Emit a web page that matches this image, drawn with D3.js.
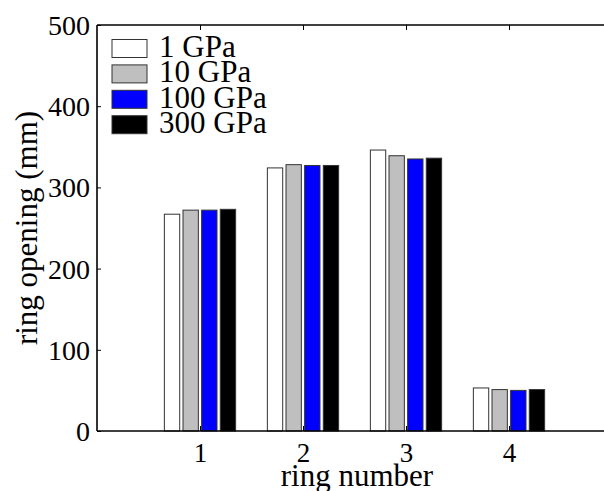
<!DOCTYPE html>
<html>
<head>
<meta charset="utf-8">
<script src="https://cdn.jsdelivr.net/npm/d3@7/dist/d3.min.js"></script>
<style>
  html, body { margin: 0; padding: 0; background: #fff; }
  svg { display: block; }
  text { font-family: "Liberation Serif", "Times New Roman", serif; fill: #000; }
</style>
</head>
<body>
<svg id="chart" width="604" height="491"></svg>
<script>
// Ring opening for each ring, one series per stiffness value
const rings = [1, 2, 3, 4];
const seriesNames = ["1 GPa", "10 GPa", "100 GPa", "300 GPa"];
const seriesColors = ["#ffffff", "#bfbfbf", "#0000ff", "#000000"];
const gpa1 = [267, 324, 346, 53];
const gpa10 = [272, 328, 339, 51];
const gpa100 = [272, 327, 335, 50];
const gpa300 = [273, 327, 336, 51];
const series = [gpa1, gpa10, gpa100, gpa300];
const yTicks = [0, 100, 200, 300, 400, 500];

const svg = d3.select("#chart");
const mLeft = 97, mRight = 612, mTop = 25, mBottom = 431;

const x = d3.scaleLinear().domain([0, 5]).range([mLeft, mRight]);
const y = d3.scaleLinear().domain([0, 500]).range([mBottom, mTop]);

const pitch = 0.181;   // bar spacing inside a group, in x units
const barW = 0.149;    // bar width, in x units

// bars
const g = svg.append("g");
series.forEach((vals, si) => {
  vals.forEach((v, ri) => {
    const cx = rings[ri] + (si - 1.5) * pitch;
    g.append("rect")
      .attr("x", x(cx - barW / 2))
      .attr("width", x(barW) - x(0))
      .attr("y", y(v))
      .attr("height", y(0) - y(v))
      .attr("fill", seriesColors[si])
      .attr("stroke", "#333")
      .attr("stroke-width", 1);
  });
});

// axes box lines (left, bottom, top)
const axisG = svg.append("g").attr("stroke", "#000").attr("stroke-width", 1.6).attr("fill", "none");
axisG.append("line").attr("x1", mLeft).attr("x2", mLeft).attr("y1", mTop).attr("y2", mBottom);
axisG.append("line").attr("x1", mLeft).attr("x2", mRight).attr("y1", mBottom).attr("y2", mBottom);
axisG.append("line").attr("x1", mLeft).attr("x2", mRight).attr("y1", mTop).attr("y2", mTop);

// y axis with inward ticks
const yAxis = d3.axisLeft(y).tickValues(yTicks).tickSize(-4).tickPadding(7);
const ya = svg.append("g").attr("transform", `translate(${mLeft},0)`).call(yAxis);
ya.select(".domain").remove();
ya.selectAll(".tick line").attr("stroke", "#000").attr("stroke-width", 1);
ya.selectAll(".tick text")
  .style("font-family", '"Liberation Serif", serif')
  .style("font-size", "28px")
  .attr("dy", "0.34em");

// x axis with inward ticks
const xAxis = d3.axisBottom(x).tickValues(rings).tickFormat(d3.format("d")).tickSize(-5).tickPadding(12);
const xa = svg.append("g").attr("transform", `translate(0,${mBottom})`).call(xAxis);
xa.select(".domain").remove();
xa.selectAll(".tick line").attr("stroke", "#000").attr("stroke-width", 1);
xa.selectAll(".tick text")
  .style("font-family", '"Liberation Serif", serif')
  .style("font-size", "27px");

// top axis ticks
const xTop = d3.axisTop(x).tickValues(rings).tickSize(-5).tickFormat("");
const xt = svg.append("g").attr("transform", `translate(0,${mTop})`).call(xTop);
xt.select(".domain").remove();
xt.selectAll(".tick line").attr("stroke", "#000").attr("stroke-width", 1);

// axis titles
svg.append("text")
  .attr("x", 357)
  .attr("y", 486)
  .attr("text-anchor", "middle")
  .style("font-size", "31px")
  .text("ring number");

svg.append("text")
  .attr("transform", `translate(37,${(mTop + mBottom) / 2}) rotate(-90)`)
  .attr("text-anchor", "middle")
  .style("font-size", "31px")
  .text("ring opening (mm)");

// legend
const lg = svg.append("g");
seriesNames.forEach((name, i) => {
  const cy = 48.5 + i * 25.4;
  lg.append("rect")
    .attr("x", 112).attr("y", cy - 9)
    .attr("width", 35).attr("height", 18)
    .attr("fill", seriesColors[i])
    .attr("stroke", "#333").attr("stroke-width", 1);
  lg.append("text")
    .attr("x", 159).attr("y", cy + 8.5)
    .style("font-size", "31px")
    .text(name);
});
</script>
</body>
</html>
